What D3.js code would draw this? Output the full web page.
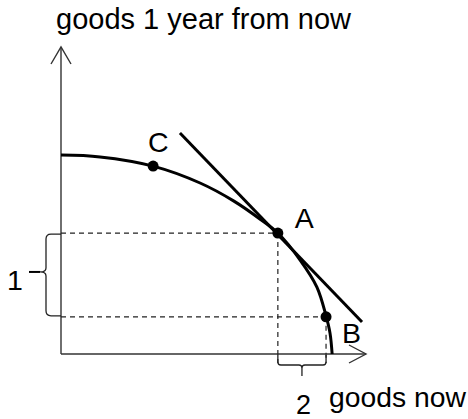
<!DOCTYPE html>
<html>
<head>
<meta charset="utf-8">
<script src="https://cdn.jsdelivr.net/npm/d3@7"></script>
<style>
  html, body { margin: 0; padding: 0; background: #fff; }
  svg { display: block; }
  text { font-family: "Liberation Sans", Arial, sans-serif; fill: #000; }
</style>
</head>
<body>
<svg id="chart" width="468" height="419"></svg>
<script>
// Production possibilities frontier: goods now vs goods 1 year from now
const ppfX = [0, 1.28, 3.02, 4.56, 5.67, 6.52, 7.11, 7.84, 8.39, 8.69, 8.82, 8.89];
const ppfY = [6.48, 6.42, 6.12, 5.57, 4.98, 4.40, 3.94, 3.06, 2.18, 1.24, 0.68, 0];

const pointNames = ["C", "A", "B"];
const pointX = [3.02, 7.11, 8.69];
const pointY = [6.12, 3.94, 1.21];

// tangent line touching the frontier at A
const tangentX = [3.90, 9.87];
const tangentY = [7.20, 1.04];

const axisTitles = ["goods now", "goods 1 year from now"];
const braceLabels = ["1", "2"];

const svg = d3.select("#chart");
const x = d3.scaleLinear().domain([0, 10]).range([61, 366]);
const y = d3.scaleLinear().domain([0, 10]).range([354, 47]);

const axisColor = "#333";

// axes with open arrowheads
const g = svg.append("g");
g.append("line").attr("x1", x(0)).attr("y1", y(0)).attr("x2", x(0)).attr("y2", y(10))
  .attr("stroke", axisColor).attr("stroke-width", 1.4);
g.append("path").attr("d", `M${x(0) - 10},${y(10) + 17}L${x(0)},${y(10)}L${x(0) + 10},${y(10) + 17}`)
  .attr("fill", "none").attr("stroke", axisColor).attr("stroke-width", 1.4);
g.append("line").attr("x1", x(0)).attr("y1", y(0)).attr("x2", x(10)).attr("y2", y(0))
  .attr("stroke", axisColor).attr("stroke-width", 1.4);
g.append("path").attr("d", `M${x(10) - 17},${y(0) - 9}L${x(10)},${y(0)}L${x(10) - 17},${y(0) + 9}`)
  .attr("fill", "none").attr("stroke", axisColor).attr("stroke-width", 1.4);

// dashed guides from A and B
const iA = pointNames.indexOf("A"), iB = pointNames.indexOf("B");
const braceY = y(0) + 11;
const dash = { stroke: "#222", "stroke-width": 1.2, "stroke-dasharray": "5,4" };
function dashed(x1, y1, x2, y2) {
  const l = g.append("line").attr("x1", x1).attr("y1", y1).attr("x2", x2).attr("y2", y2);
  Object.entries(dash).forEach(([k, v]) => l.attr(k, v));
}
dashed(x(0), y(pointY[iA]), x(pointX[iA]), y(pointY[iA]));
dashed(x(0), y(pointY[iB]), x(pointX[iB]), y(pointY[iB]));
dashed(x(pointX[iA]), y(pointY[iA]), x(pointX[iA]), braceY - 2);
dashed(x(pointX[iB]), y(pointY[iB]), x(pointX[iB]), braceY - 2);

// frontier curve
const ppf = d3.line().x((d, i) => x(ppfX[i])).y((d, i) => y(ppfY[i])).curve(d3.curveCatmullRom.alpha(0.5));
g.append("path").datum(ppfX).attr("d", ppf)
  .attr("fill", "none").attr("stroke", "#000").attr("stroke-width", 3);

// tangent
g.append("line")
  .attr("x1", x(tangentX[0])).attr("y1", y(tangentY[0]))
  .attr("x2", x(tangentX[1])).attr("y2", y(tangentY[1]))
  .attr("stroke", "#000").attr("stroke-width", 3);

// points and their labels
const labelOffset = { C: [-5, -14], A: [17, -5], B: [16, 26] };
pointNames.forEach((n, i) => {
  g.append("circle").attr("cx", x(pointX[i])).attr("cy", y(pointY[i])).attr("r", 5.5).attr("fill", "#000");
  g.append("text").attr("x", x(pointX[i]) + labelOffset[n][0]).attr("y", y(pointY[i]) + labelOffset[n][1])
    .attr("font-size", 28.5).text(n);
});

// vertical brace for the change in future goods
const yTop = y(pointY[iA]) + 1, yBot = y(pointY[iB]) - 1, yMid = (yTop + yBot) / 2 - 3;
const bx = 46, tipX = 40, edgeX = x(0);
g.append("path")
  .attr("d", `M${edgeX},${yTop} L${bx + 5},${yTop} Q${bx},${yTop} ${bx},${yTop + 5} L${bx},${yMid - 4} Q${bx},${yMid} ${tipX},${yMid}` +
             ` Q${bx},${yMid} ${bx},${yMid + 4} L${bx},${yBot - 5} Q${bx},${yBot} ${bx + 5},${yBot} L${edgeX},${yBot}`)
  .attr("fill", "none").attr("stroke", "#222").attr("stroke-width", 1.3);
g.append("line").attr("x1", 29).attr("y1", yMid).attr("x2", tipX).attr("y2", yMid)
  .attr("stroke", "#000").attr("stroke-width", 2);
g.append("text").attr("x", 7).attr("y", 290).attr("font-size", 28.5).text(braceLabels[0]);

// horizontal brace for the change in present goods
const xL = x(pointX[iA]), xR = x(pointX[iB]), xMid = (xL + xR) / 2;
const by = braceY, tipY = by + 11;
g.append("path")
  .attr("d", `M${xL},${y(0) + 1} L${xL},${by - 3} Q${xL},${by} ${xL + 3},${by} L${xMid - 3},${by} Q${xMid},${by} ${xMid},${by + 3} L${xMid},${tipY}` +
             ` M${xMid},${by + 3} Q${xMid},${by} ${xMid + 3},${by} L${xR - 3},${by} Q${xR},${by} ${xR},${by - 3} L${xR},${y(0) + 1}`)
  .attr("fill", "none").attr("stroke", "#222").attr("stroke-width", 1.3);
g.append("text").attr("x", 296).attr("y", 414).attr("font-size", 27).text(braceLabels[1]);

// axis titles
g.append("text").attr("x", 329).attr("y", 407).attr("font-size", 28.3).text(axisTitles[0]);
g.append("text").attr("x", 56).attr("y", 29).attr("font-size", 29).text(axisTitles[1]);
</script>
</body>
</html>
